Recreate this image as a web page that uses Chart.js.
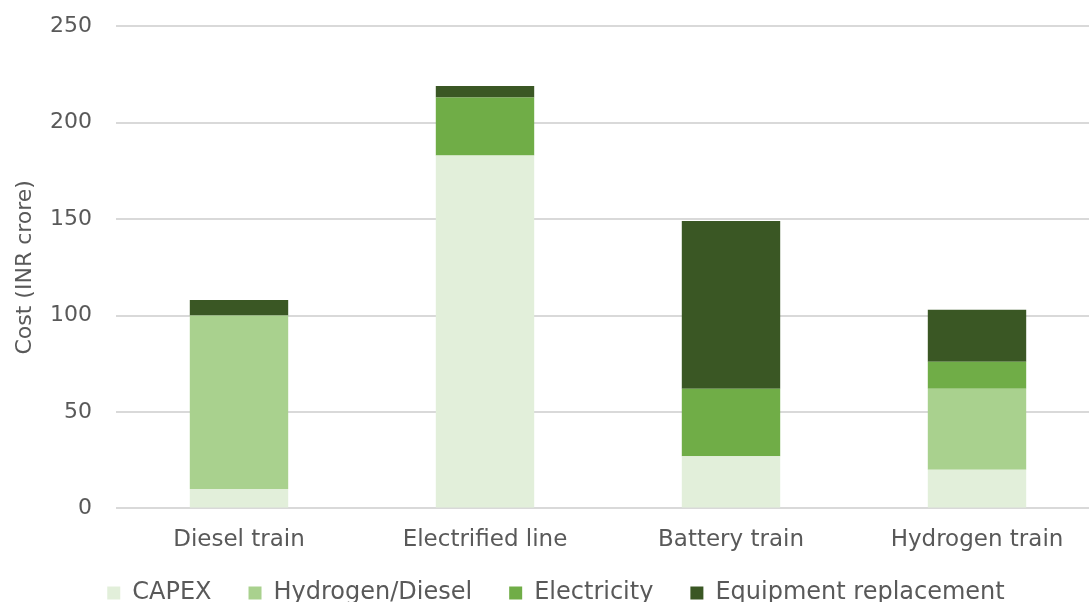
<!DOCTYPE html>
<html>
<head>
<meta charset="utf-8">
<script src="https://cdn.jsdelivr.net/npm/chart.js@4/dist/chart.umd.min.js"></script>
<style>
  html, body { margin: 0; padding: 0; background: #fff; overflow: hidden; }
  #wrap { position: relative; width: 1100px; height: 646px; margin-top: -11px; }
</style>
</head>
<body>
<div id="wrap"><canvas id="costChart"></canvas></div>
<script>
// categories and stacked values (INR crore)
const categories = ['Diesel train', 'Electrified line', 'Battery train', 'Hydrogen train'];
const capex = [10, 183, 27, 20];
const hydrogenDiesel = [90, 0, 0, 42];
const electricity = [0, 30, 35, 14];
const equipment = [8, 6, 87, 27];

const textColor = '#595959';
const fontFamily = '"DejaVu Sans", sans-serif';

// pull the legend up closer to the axis labels
const legendLift = {
  id: 'legendLift',
  afterLayout(chart) {
    chart.legend.top -= 20;
    chart.legend.bottom -= 20;
  }
};

const ctx = document.getElementById('costChart').getContext('2d');

new Chart(ctx, {
  type: 'bar',
  data: {
    labels: categories,
    datasets: [
      { label: 'CAPEX', data: capex, backgroundColor: '#E2EFDA' },
      { label: 'Hydrogen/Diesel', data: hydrogenDiesel, backgroundColor: '#A9D18E' },
      { label: 'Electricity', data: electricity, backgroundColor: '#70AD47' },
      { label: 'Equipment replacement', data: equipment, backgroundColor: '#3A5724' }
    ]
  },
  plugins: [legendLift],
  options: {
    responsive: true,
    maintainAspectRatio: false,
    animation: false,
    layout: {
      padding: { top: 2, left: 12, right: 0, bottom: 0 }
    },
    datasets: {
      bar: {
        categoryPercentage: 0.4,
        barPercentage: 1.0,
        borderWidth: 0
      }
    },
    plugins: {
      legend: {
        position: 'bottom',
        labels: {
          color: textColor,
          font: { family: fontFamily, size: 24 },
          boxWidth: 13,
          boxHeight: 13,
          padding: 37
        }
      },
      tooltip: { enabled: false }
    },
    scales: {
      x: {
        stacked: true,
        grid: { display: false },
        border: { display: false },
        ticks: {
          color: textColor,
          font: { family: fontFamily, size: 23 },
          padding: 10
        }
      },
      y: {
        stacked: true,
        min: 0,
        max: 250,
        border: { display: false },
        grid: { color: '#D9D9D9', lineWidth: 2, drawTicks: false },
        afterFit(scale) {
          scale.width = 104;
        },
        ticks: {
          stepSize: 50,
          color: textColor,
          font: { family: fontFamily, size: 22 },
          padding: 24
        },
        title: {
          display: true,
          text: 'Cost (INR crore)',
          color: textColor,
          font: { family: fontFamily, size: 22 },
          padding: { top: 0, bottom: 0 }
        }
      }
    }
  }
});
</script>
</body>
</html>
